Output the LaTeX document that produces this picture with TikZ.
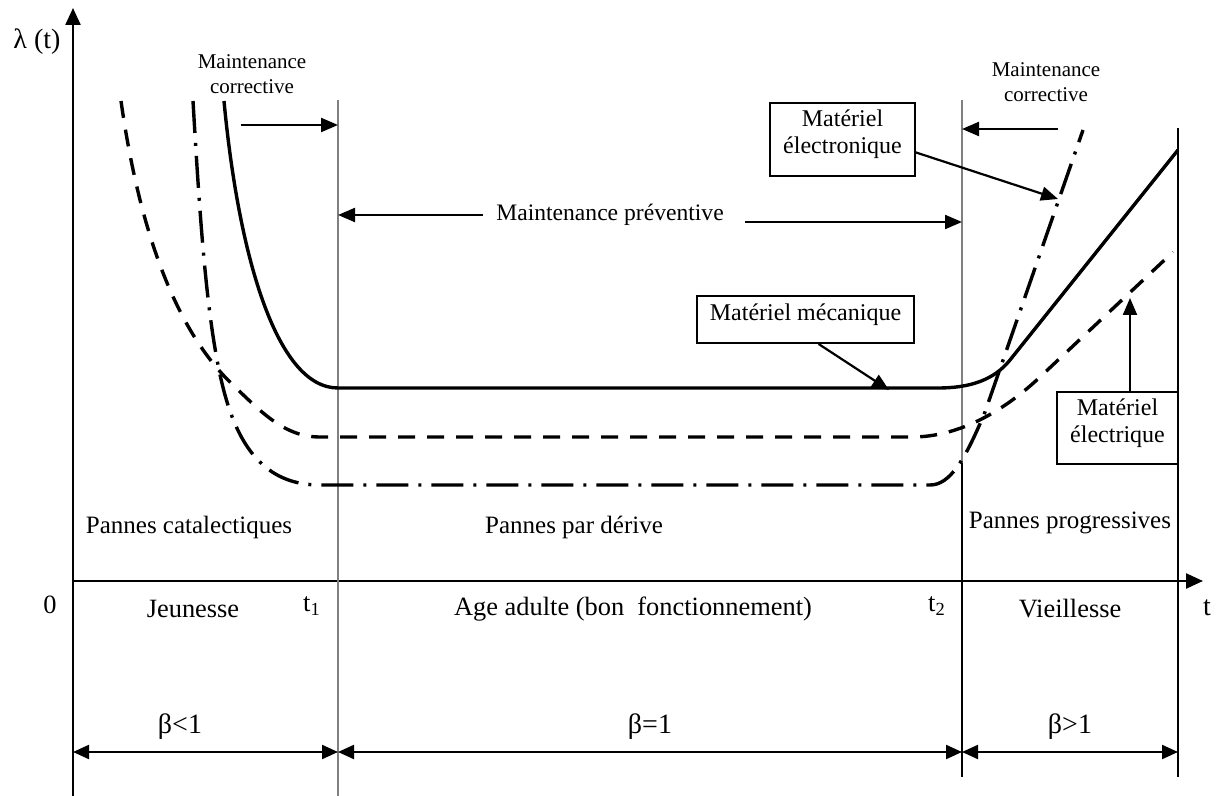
\documentclass[tikz,border=0pt]{standalone}
\usepackage{fontspec}
\setmainfont{Liberation Serif}
\usetikzlibrary{arrows.meta}
\tikzset{
  axe/.style={line width=1.2pt,-{Triangle[length=8.5pt,width=7.5pt]}},
  limite/.style={gray,line width=0.6pt},
  borne/.style={line width=1pt},
  fleche/.style={line width=1.1pt,-{Triangle[length=8.5pt,width=7pt]}},
  cote/.style={line width=1.1pt,{Triangle[length=8pt,width=7pt]}-{Triangle[length=8pt,width=7pt]}},
  boite/.style={draw,line width=0.9pt,align=center,inner sep=0pt,text depth=7.5pt,
    font=\fontsize{12}{13.5}\selectfont},
  petit/.style={align=center,font=\fontsize{10.5}{12.5}\selectfont},
  moyen/.style={font=\fontsize{12.5}{14}\selectfont},
  grand/.style={font=\fontsize{13.2}{15}\selectfont},
  gros/.style={font=\fontsize{14}{16}\selectfont},
  meca/.style={line width=1.7pt},
  elec/.style={line width=1.7pt,dash pattern=on 8.5pt off 6pt},
  tronique/.style={line width=1.7pt,dash pattern=on 16pt off 5pt on 1.5pt off 5pt},
}
\begin{document}
\begin{tikzpicture}[x=0.5pt,y=-0.5pt]
\useasboundingbox (0,0) rectangle (1220,796);
\coordinate (O) at (73,581);
\coordinate (t1) at (338,581);
\coordinate (t2) at (962,581);
\coordinate (fin) at (1178,581);
\draw[axe] (73,796) -- (73,8);
\draw[axe] (O) -- (1203,581);
\draw[limite] (338,100) -- (338,796);
\draw[limite] (962,100) -- (962,463);
\draw[borne] (962,463) -- (962,777);
\draw[borne] (1178,128) -- (1178,777);
% courbes
\draw[meca] (224,101) .. controls (238,250) and (275,388) .. (338,388) -- (938,388)
  .. controls (970,388) and (994,380) .. (1010,360) -- (1178,150);
\draw[elec] (121,101) .. controls (135,200) and (165,320) .. (232,384)
  .. controls (262,413) and (285,437) .. (320,437) -- (912,437)
  .. controls (960,437) and (1005,410) .. (1040,377) -- (1173,252);
\draw[tronique] (193,101) .. controls (200,220) and (207,330) .. (225,395)
  .. controls (243,460) and (275,485) .. (320,485) -- (930,485)
  .. controls (950,485) and (965,460) .. (985,412) -- (1083,130);
% textes
\node[gros] (lambda) at (37,42) {λ (t)};
\node[grand] (zero) at (50,605) {0};
\node[grand] (jeune) at (193,609) {Jeunesse};
\node[grand] (lt1) at (312,606) {t\textsubscript{1}};
\node[grand] (adulte) at (633,609) {Age adulte (bon\ \ fonctionnement)};
\node[grand] (lt2) at (937,606) {t\textsubscript{2}};
\node[grand] (vieux) at (1070,609) {Vieillesse};
\node[gros] (lt) at (1207,608) {t};
\node[moyen] (cata) at (189,527) {Pannes catalectiques};
\node[moyen] (derive) at (574,527) {Pannes par dérive};
\node[moyen] (progr) at (1070,523) {Pannes progressives};
\node[gros] (b1) at (180,727) {β<1};
\node[gros] (b2) at (650,727) {β=1};
\node[gros] (b3) at (1070,727) {β>1};
\node[petit] (corrg) at (252,74) {Maintenance\\corrective};
\node[petit] (corrd) at (1046,82) {Maintenance\\corrective};
\node[font=\fontsize{11.8}{14}\selectfont] (prev) at (610,215) {Maintenance préventive};
\node[boite,minimum width=72.5pt,minimum height=36.5pt] (tron) at (842.5,139.5) {Matériel\\électronique};
\node[boite,minimum width=108.5pt,minimum height=23.5pt] (mec) at (805.5,319.5) {Matériel mécanique};
\node[boite,minimum width=60.5pt,minimum height=36pt] (elq) at (1117.5,428) {Matériel\\électrique};
% fleches
\coordinate (cg) at (241,125);
\coordinate (cd) at (1058,129);
\coordinate (pg) at (483,215);
\coordinate (pd) at (745,222);
\coordinate (ptron) at (1058,199);
\coordinate (pmec) at (889,390);
\coordinate (pelq) at (1130,298);
\draw[fleche] (cg) -- (cg -| t1);
\draw[fleche] (cd) -- (cd -| t2);
\draw[fleche] (pg) -- (pg -| t1);
\draw[fleche] (pd) -- (pd -| t2);
\draw[fleche] (tron.-10) -- (ptron);
\draw[fleche] (mec.-62) -- (pmec);
\draw[fleche] (pelq |- elq.north) -- (pelq);
\coordinate (b0) at (73,752);
\draw[cote] (b0) -- (b0 -| t1);
\draw[cote] (b0 -| t1) -- (b0 -| t2);
\draw[cote] (b0 -| t2) -- (b0 -| fin);
\end{tikzpicture}
\end{document}
